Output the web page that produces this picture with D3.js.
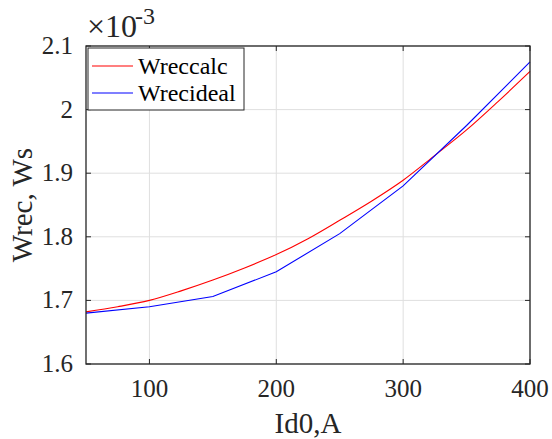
<!DOCTYPE html>
<html>
<head>
<meta charset="utf-8">
<script src="https://cdn.jsdelivr.net/npm/d3@7"></script>
<style>
  body { margin: 0; background: #fff; }
  svg text { font-family: "Liberation Serif", "Times New Roman", Times, serif; }
</style>
</head>
<body>
<svg id="chart" width="552" height="439"></svg>
<script>
// values (Wrec in units of 1e-3 Ws)
const calcId = [50, 75, 100, 125, 150, 175, 200, 225, 250, 275, 300, 325, 350, 375, 400];
const calcW = [1.682, 1.690, 1.700, 1.715, 1.732, 1.751, 1.772, 1.797, 1.826, 1.856, 1.889, 1.928, 1.968, 2.013, 2.060];
const idealId = [50, 100, 150, 200, 250, 300, 350, 400];
const idealW = [1.680, 1.690, 1.706, 1.745, 1.805, 1.880, 1.975, 2.075];
const xTicks = [100, 200, 300, 400];
const yTicks = [1.6, 1.7, 1.8, 1.9, 2.0, 2.1];
const yTickLabels = ['1.6', '1.7', '1.8', '1.9', '2', '2.1'];
const seriesNames = ['Wreccalc', 'Wrecideal'];
const seriesColors = ['#ff0000', '#0000ff'];

const margin = {left: 86, top: 46, right: 22, bottom: 75};
const svg = d3.select('#chart');
const w = 552 - margin.left - margin.right;
const h = 439 - margin.top - margin.bottom;
const axisColor = '#262626';
const serif = '"Liberation Serif", "Times New Roman", Times, serif';

const x = d3.scaleLinear().domain([50, 400]).range([0, w]);
const y = d3.scaleLinear().domain([1.6, 2.1]).range([h, 0]);

const g = svg.append('g').attr('transform', `translate(${margin.left},${margin.top})`);

// grid
g.selectAll('.gx').data(xTicks).enter().append('line')
    .attr('x1', d => x(d)).attr('x2', d => x(d))
    .attr('y1', 0).attr('y2', h)
    .attr('stroke', '#dfdfdf').attr('stroke-width', 1);
g.selectAll('.gy').data(yTicks).enter().append('line')
    .attr('x1', 0).attr('x2', w)
    .attr('y1', d => y(d)).attr('y2', d => y(d))
    .attr('stroke', '#dfdfdf').attr('stroke-width', 1);

// lines
const line = d3.line().x(d => x(d[0])).y(d => y(d[1]));
g.append('path')
    .datum(calcId.map((v, i) => [v, calcW[i]]))
    .attr('d', line.curve(d3.curveMonotoneX))
    .attr('fill', 'none').attr('stroke', seriesColors[0]).attr('stroke-width', 1.1);
g.append('path')
    .datum(idealId.map((v, i) => [v, idealW[i]]))
    .attr('d', line.curve(d3.curveLinear))
    .attr('fill', 'none').attr('stroke', seriesColors[1]).attr('stroke-width', 1.1);

// box
g.append('rect').attr('x', 0).attr('y', 0).attr('width', w).attr('height', h)
    .attr('fill', 'none').attr('stroke', axisColor).attr('stroke-width', 1.3);

// inward ticks on all sides
const tl = 5;
xTicks.forEach(t => {
    g.append('line').attr('x1', x(t)).attr('x2', x(t)).attr('y1', h).attr('y2', h - tl).attr('stroke', axisColor);
    g.append('line').attr('x1', x(t)).attr('x2', x(t)).attr('y1', 0).attr('y2', tl).attr('stroke', axisColor);
});
yTicks.forEach(t => {
    g.append('line').attr('x1', 0).attr('x2', tl).attr('y1', y(t)).attr('y2', y(t)).attr('stroke', axisColor);
    g.append('line').attr('x1', w).attr('x2', w - tl).attr('y1', y(t)).attr('y2', y(t)).attr('stroke', axisColor);
});

// tick labels
g.selectAll('.xl').data(xTicks).enter().append('text')
    .attr('x', d => x(d)).attr('y', h + 33)
    .attr('font-family', serif)
    .attr('text-anchor', 'middle').attr('font-size', 25).attr('fill', axisColor)
    .text(d => d);
g.selectAll('.yl').data(yTicks).enter().append('text')
    .attr('x', -13).attr('y', d => y(d) + 8)
    .attr('font-family', serif)
    .attr('text-anchor', 'end').attr('font-size', 25).attr('fill', axisColor)
    .text((d, i) => yTickLabels[i]);

// exponent
g.append('text').attr('x', 1).attr('y', -9)
    .attr('font-family', serif).attr('font-size', 32).attr('fill', axisColor)
    .text('\u00d710');
g.append('text').attr('x', 49).attr('y', -22)
    .attr('font-family', serif).attr('font-size', 24).attr('fill', axisColor)
    .text('-3');

// axis labels
svg.append('text')
    .attr('x', margin.left + w / 2).attr('y', 433)
    .attr('font-family', serif)
    .attr('text-anchor', 'middle').attr('font-size', 29).attr('fill', axisColor)
    .text('Id0,A');
svg.append('text')
    .attr('transform', `translate(32,${margin.top + h / 2}) rotate(-90)`)
    .attr('font-family', serif)
    .attr('text-anchor', 'middle').attr('font-size', 29).attr('fill', axisColor)
    .text('Wrec, Ws');

// legend
const lg = g.append('g').attr('transform', 'translate(2,2)');
lg.append('rect').attr('width', 156).attr('height', 62)
    .attr('fill', '#fff').attr('stroke', axisColor).attr('stroke-width', 1);
seriesNames.forEach((name, i) => {
    const cy = 18 + i * 27;
    lg.append('line').attr('x1', 4).attr('x2', 45).attr('y1', cy).attr('y2', cy)
        .attr('stroke', seriesColors[i]).attr('stroke-width', 1.1);
    lg.append('text').attr('x', 50).attr('y', cy + 8)
        .attr('font-family', serif)
        .attr('font-size', 24).attr('fill', '#000').text(name);
});
</script>
</body>
</html>
